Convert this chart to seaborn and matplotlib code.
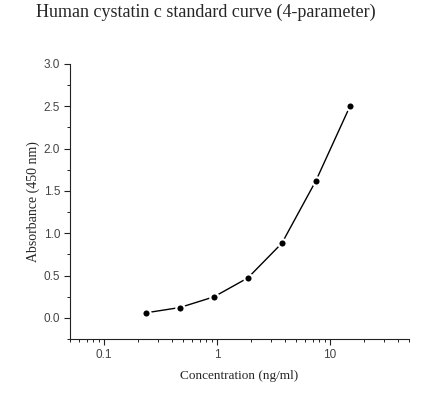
import matplotlib
matplotlib.use("Agg")
import matplotlib.pyplot as plt
import matplotlib.ticker as mticker
import seaborn as sns
import pandas as pd

concentration = [0.234, 0.469, 0.938, 1.875, 3.75, 7.5, 15.0]
absorbance = [0.059, 0.122, 0.248, 0.472, 0.882, 1.62, 2.50]
y_ticks = [0.0, 0.5, 1.0, 1.5, 2.0, 2.5, 3.0]
x_ticks = [0.1, 1, 10]
x_tick_labels = ["0.1", "1", "10"]

df = pd.DataFrame({"conc": concentration, "abs": absorbance})

sns.set_style("ticks")
fig = plt.figure(figsize=(4.33, 3.97), dpi=100)
ax = fig.add_axes([70/433, 1-339/397, (409-70)/433, (339-64)/397])

sns.lineplot(data=df, x="conc", y="abs", ax=ax, color="black", linewidth=1.0,
             marker="o", markersize=6, markerfacecolor="black",
             markeredgecolor="white", markeredgewidth=1.6)

ax.set_xscale("log")
ax.set_xlim(0.05, 50)
ax.set_ylim(-0.25, 3.0)
ax.set_xticks(x_ticks)
ax.set_xticklabels(x_tick_labels)
ax.xaxis.set_minor_locator(mticker.LogLocator(base=10, subs=range(2, 10)))
ax.xaxis.set_minor_formatter(mticker.NullFormatter())
ax.set_yticks(y_ticks)
ax.set_yticklabels([f"{v:.1f}" for v in y_ticks])
ax.yaxis.set_minor_locator(mticker.MultipleLocator(0.25))

for side in ["top", "right"]:
    ax.spines[side].set_visible(False)
for side in ["left", "bottom"]:
    ax.spines[side].set_linewidth(0.8)
    ax.spines[side].set_color("#222222")

ax.tick_params(which="major", direction="out", length=4, width=0.8, color="#222222",
               labelsize=8.5, labelcolor="#444444", pad=3)
ax.tick_params(which="minor", direction="out", length=2.5, width=0.7, color="#222222")
for lbl in ax.get_xticklabels() + ax.get_yticklabels():
    lbl.set_family("Liberation Sans")

ax.set_xlabel("Concentration (ng/ml)", family="Liberation Serif", fontsize=9.5, labelpad=7)
ax.set_ylabel("Absorbance (450 nm)", family="Liberation Serif", fontsize=10, labelpad=3)

fig.text(206/433, 1-12/397, "Human cystatin c standard curve (4-parameter)",
         family="Liberation Serif", fontsize=13, ha="center", va="center")

fig.savefig("out.png", dpi=100, facecolor="white")
